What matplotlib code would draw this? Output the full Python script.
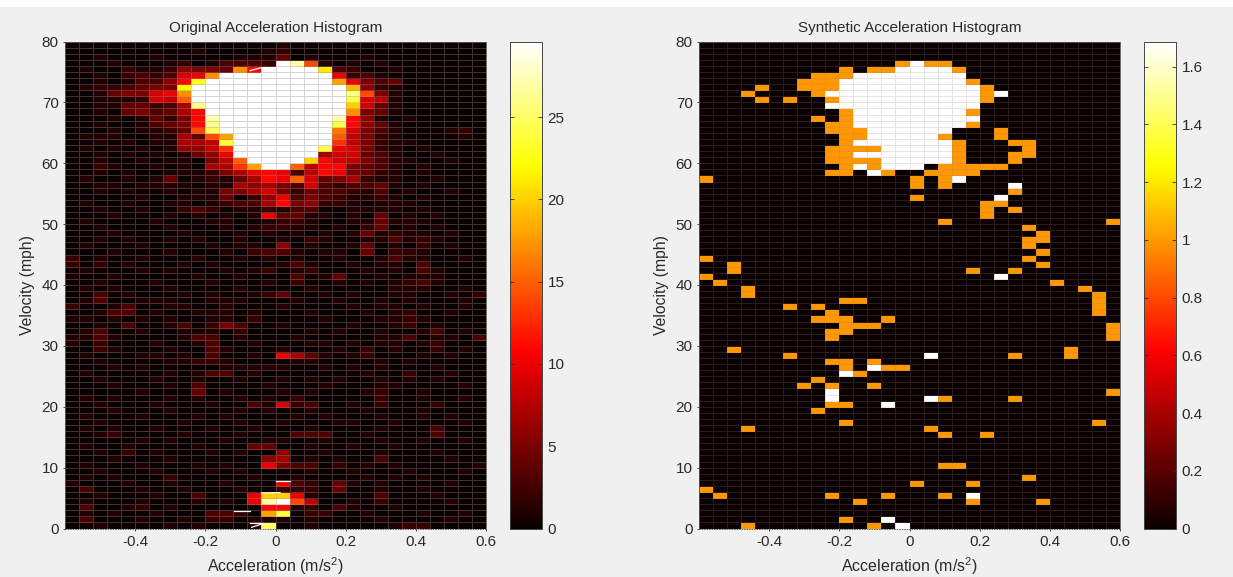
import numpy as np
import matplotlib
matplotlib.use("Agg")
import matplotlib.pyplot as plt
from matplotlib.patches import Rectangle

plt.rcParams['font.family'] = ['Liberation Sans', 'DejaVu Sans']
plt.rcParams['mathtext.default'] = 'regular'

# one char per cell (base 31: 0-9 then a=10 ... u=30), first row is 79-80 mph
orig_rows = [
    "00000 00000 00000 10000 00000 00000",
    "00000 00001 00001 20000 00000 00000",
    "00100 01000 00111 40100 01000 00000",
    "00010 00120 13332 ure10 10100 00000",
    "01002 11265 54hbu uuul3 20010 00000",
    "00102 3239a huuuu uuuua 23100 00000",
    "00101 336bn uuuuu uuuui a5340 00000",
    "01223 455mu uuuuu uuuuu j6210 00000",
    "00145 59ahu uuuuu uuuuu qe510 00000",
    "00111 298fu uuuuu uuuuu o9810 00000",
    "00114 4237q uuuuu uuuuu k9410 00000",
    "00104 5347b uuuuu uuuuu h5410 00000",
    "00010 1425b ruuuu uuuur b6101 00000",
    "00100 1345b quuuu uuuuo b6410 00000",
    "00010 1124e puuuu uuuug 95310 00120",
    "01110 01174 eiuuu uuuuf 85210 00010",
    "00101 01177 8ouuu uuuud 85211 00000",
    "01010 10166 8duuu uuuoa 95210 10000",
    "00101 01014 6auuu uuu79 94310 01000",
    "00100 10110 58fuu uukb9 85311 00100",
    "00210 01010 77diu uf8bb 54310 10000",
    "00101 00111 257ab a38ba 54210 10000",
    "01001 01401 2147b af945 72110 01000",
    "00110 11110 11767 53932 33410 10000",
    "00101 00101 15579 52433 21301 00100",
    "00000 10011 14026 a3532 11210 10000",
    "01001 00110 12337 b5622 10111 00000",
    "00100 10023 20112 13300 11110 10000",
    "00010 00101 0101a 44110 10401 01000",
    "01000 01000 11001 22100 11411 10000",
    "00100 00100 01012 21101 02401 01000",
    "00010 00010 00101 01010 14121 10100",
    "00101 00101 00100 10210 01131 21000",
    "01000 10000 10110 60100 14010 20100",
    "00010 00100 01023 31011 04022 10000",
    "20100 10001 00101 01001 00131 10010",
    "20201 00010 10000 13100 10110 30000",
    "01000 10100 01012 01200 01010 31000",
    "10010 00001 00100 03014 00101 11000",
    "00100 01000 10001 02001 01012 31000",
    "01010 00100 00100 00100 00011 10010",
    "00301 00010 10012 40010 10011 00102",
    "01300 11100 11100 01001 00101 00010",
    "20013 00110 01000 10000 10110 10010",
    "00133 01001 11010 00100 01012 00100",
    "11010 10100 11020 00010 00112 10000",
    "00103 00130 25300 10000 10012 01000",
    "01300 10011 10200 00101 00100 13010",
    "11310 00013 30100 01000 00113 01103",
    "10200 01001 30010 00110 10110 12000",
    "00210 00100 31000 10001 02010 02010",
    "01000 11010 30010 a7410 12000 10100",
    "00100 00112 21000 01100 00101 00000",
    "00010 10000 01111 10010 10100 01000",
    "01000 00101 33010 00000 01002 00100",
    "00100 01001 00100 10101 00101 01000",
    "00010 00103 00001 00010 00110 00010",
    "00000 10004 01000 10100 01200 10000",
    "01010 00101 00101 02000 00200 10010",
    "00100 01000 10031 92300 10200 02000",
    "00010 00100 00101 00100 01000 10000",
    "01000 10001 01000 01010 00100 10100",
    "00100 00010 00100 10001 10010 00010",
    "01010 01000 10010 00100 00100 03000",
    "00120 00010 00100 03330 01000 03000",
    "00000 10100 01001 10010 00100 10010",
    "01001 00001 00044 00100 10010 00000",
    "00102 01000 10100 60010 00100 01000",
    "00010 00100 00006 70101 00300 00100",
    "01000 10001 0100a 53302 01010 00001",
    "00100 01000 10100 00100 10001 00010",
    "01010 00200 00010 01000 01010 10000",
    "10001 00100 01000 a3204 10100 00100",
    "03000 10010 00100 22204 00100 10000",
    "00100 01003 000ak ka100 00300 01000",
    "01000 10001 010ar ue800 10200 00100",
    "03001 20100 0000b b1203 10010 00000",
    "01010 01000 3320i o0220 01000 10010",
    "03000 10010 22011 10100 00100 00100",
    "00100 00101 0001p 00100 00012 20000",
]

# synthetic histogram: row (0 = top, 79-80 mph) -> columns holding a count of 1
syn_ones = {
    3: [14, 16, 17], 4: [10, 12, 13, 18], 5: [8, 9, 10], 6: [7, 8, 9, 19],
    7: [4, 7, 8, 9, 20], 8: [3, 8, 20], 9: [4, 6, 9, 20], 11: [10, 19],
    12: [8, 10], 13: [9, 10, 19], 14: [9, 10, 11, 21], 15: [10, 11, 17, 21],
    16: [10, 18, 22, 23], 17: [9, 10, 11, 12, 18, 23], 18: [9, 10, 18, 22, 23],
    19: [9, 10, 11, 12, 18, 22], 20: [10, 12, 17, 18, 19, 20, 21],
    21: [9, 10, 13, 16, 17, 18, 19], 22: [0, 15, 17], 23: [15, 17], 24: [22],
    25: [15], 26: [20, 21], 27: [20, 22], 28: [20], 29: [17, 29], 30: [23],
    31: [24], 32: [23, 24], 33: [23], 34: [24], 35: [0, 23], 36: [2, 24],
    37: [2, 19, 22], 38: [0], 39: [1, 25], 40: [3, 27], 41: [3, 28],
    42: [10, 11, 28], 43: [6, 8, 28], 44: [9, 28], 45: [8, 9, 10, 13],
    46: [10, 11, 12, 29], 47: [9, 10, 29], 48: [9, 29], 50: [2, 26],
    51: [6, 22, 26], 52: [9, 10, 12], 53: [10, 13, 14], 54: [11], 55: [8],
    56: [7, 9, 12], 57: [29], 58: [17, 22], 59: [9, 10], 60: [8], 62: [10, 28],
    63: [3, 16], 64: [17, 20], 69: [17, 18], 71: [23], 72: [15, 19], 73: [0],
    74: [1, 9, 13, 17], 75: [11, 19, 24], 78: [10], 79: [3, 12],
}
# same, for cells with a count of 2 or more
syn_twos = {
    3: [15], 4: [14, 15, 16, 17], 5: list(range(11, 19)), 6: list(range(10, 19)),
    7: list(range(10, 20)), 8: list(range(9, 20)) + [21], 9: list(range(10, 20)),
    10: list(range(9, 20)), 11: list(range(11, 19)), 12: list(range(11, 20)),
    13: list(range(11, 19)), 14: list(range(12, 18)), 15: list(range(12, 17)),
    16: list(range(11, 18)), 17: list(range(13, 18)), 18: list(range(11, 18)),
    19: list(range(13, 18)), 20: [11, 13, 14, 15], 21: [12], 22: [18], 23: [22],
    25: [21], 38: [21], 51: [16], 53: [12], 54: [10], 57: [9], 58: [9, 16],
    59: [13], 74: [19], 78: [13], 79: [14],
}

# stray white dashes in the left panel, (a0, a1, v0, v1)
glitches = [
    (-0.118, -0.072, 2.9, 2.9), (-0.073, -0.036, 0.95, 0.95),
    (-0.068, -0.039, 0.2, 0.74), (0.0, 0.04, 7.85, 7.85),
    (-0.04, 0.013, 5.85, 5.9), (-0.073, -0.04, 75.2, 75.7),
]

x_edges = np.linspace(-0.6, 0.6, 31)
y_edges = np.arange(0, 81)
x_ticks = [-0.4, -0.2, 0, 0.2, 0.4, 0.6]
x_labels = ['-0.4', '-0.2', '0', '0.2', '0.4', '0.6']
y_ticks = np.arange(0, 81, 10)
orig_cticks = [0, 5, 10, 15, 20, 25]
syn_cticks = [0, 0.2, 0.4, 0.6, 0.8, 1, 1.2, 1.4, 1.6]


def decode_rows(rows):
    return np.array([[int(c, 36) for c in r.replace(' ', '')] for r in rows], dtype=float)


def build_synthetic():
    z = np.zeros((80, 30))
    for r, cols in syn_ones.items():
        z[r, cols] = 1
    for r, cols in syn_twos.items():
        z[r, cols] = 2
    return z


W, H = 1233, 577
txt = '#2a2a2a'


def box(l, t, r, b):  # pixel box -> figure fractions
    return [l / W, 1 - b / H, (r - l) / W, (b - t) / H]


def panel(fig, z, title, vmax, edge, ax_px, cb_px, cticks):
    ax = fig.add_axes(box(*ax_px))
    m = ax.pcolormesh(x_edges, y_edges, z[::-1], cmap='hot', vmin=0, vmax=vmax,
                      edgecolors=edge, linewidth=0.4)
    ax.set_xlim(-0.6, 0.6)
    ax.set_ylim(0, 80)
    ax.set_xticks(x_ticks)
    ax.set_xticklabels(x_labels)
    ax.set_yticks(y_ticks)
    ax.tick_params(labelsize=11, length=1.5, width=0.6, pad=3, colors=txt)
    ax.set_title(title, fontsize=11, color=txt, pad=7)
    ax.set_xlabel('Acceleration (m/s$^2$)', fontsize=11.5, color=txt, labelpad=5)
    ax.set_ylabel('Velocity (mph)', fontsize=11.3, color=txt, labelpad=5)
    for s in ax.spines.values():
        s.set_linewidth(0.6)
        s.set_color('#555555')
    ax.spines['bottom'].set_linestyle((0, (1, 2)))

    cax = fig.add_axes(box(*cb_px))
    cb = fig.colorbar(m, cax=cax)
    cb.set_ticks(cticks)
    cb.set_ticklabels(['%g' % t for t in cticks])
    cax.tick_params(labelsize=11, direction='in', left=True, right=True,
                    length=3, width=0.6, pad=4, colors=txt)
    cb.outline.set_linewidth(0.7)
    cb.outline.set_edgecolor('#444444')
    return ax


fig = plt.figure(figsize=(W / 100, H / 100), dpi=100, facecolor='white')
fig.add_artist(Rectangle((0, 0), 1, 1 - 7 / H, transform=fig.transFigure,
                         facecolor='#f0f0f0', edgecolor='none', zorder=-1))

ax1 = panel(fig, decode_rows(orig_rows), 'Original Acceleration Histogram', 29.6,
            (0.6, 0.55, 0.55, 0.36), (65, 41.5, 486, 528.5), (510, 41.5, 542, 528.5), orig_cticks)
for a0, a1, v0, v1 in glitches:
    ax1.plot([a0, a1], [v0, v1], color='white', lw=0.9)
ax1.set_xlim(-0.6, 0.6)
ax1.set_ylim(0, 80)

panel(fig, build_synthetic(), 'Synthetic Acceleration Histogram', 1.687,
      (0.6, 0.5, 0.5, 0.22), (699, 41.5, 1120, 528.5), (1144, 41.5, 1176, 528.5), syn_cticks)

fig.savefig('out.png', dpi=100, facecolor=fig.get_facecolor())
